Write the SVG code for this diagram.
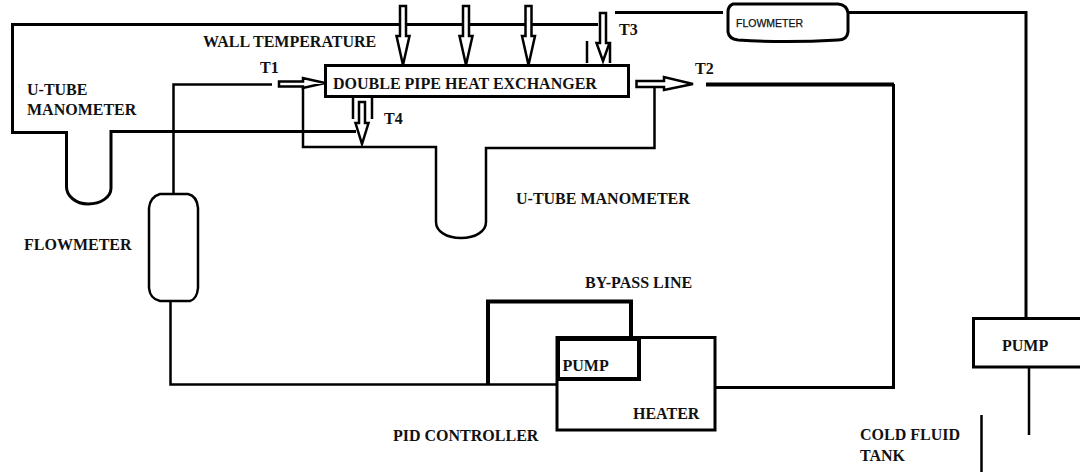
<svg xmlns="http://www.w3.org/2000/svg" width="1080" height="472" viewBox="0 0 1080 472">
<style>
text{font-family:"Liberation Serif","Times New Roman",serif;font-weight:bold;font-size:16px;fill:#111}
.sans{font-family:"Liberation Sans",Arial,sans-serif;font-size:10.5px;font-weight:normal;stroke:#111;stroke-width:.25px}
.l,.b,.a{fill:none;stroke:#000;stroke-width:2.5px}
.b{stroke-width:4px}
.m{fill:none;stroke:#000;stroke-width:3px}
.a{fill:#fff;stroke-width:2.5px}
.n{fill:#fff;stroke:#000;stroke-width:3px}
#bg{fill:#fff}
</style>
<defs>
<path id="down" class="a" d="M-3,0H3V30H6.500L0,59L-6.500,30H-3Z"/>
</defs>
<rect id="bg" width="1080" height="472"/>
<g id="connectors">
<path class="m" d="M598,24.500H12.500V132.500H66.500V186C66,196 76,204 88,204C101,204 111,197 111,188V131.500H356"/>
<path class="l" d="M173.500,194V84.500H272"/>
<path class="l" d="M303,86V147H436V222C436,231 446,238 461,238C476,238 486,231 486,222V148H654.500V86"/>
<path class="b" d="M706,84.500H894"/>
<path class="m" d="M893.500,84V387.500H716"/>
<path class="m" d="M615,12.500H723"/>
<path class="m" d="M848,12.500H1026V318"/>
<path class="l" d="M1029,367V435"/>
<path class="l" d="M981.500,415V472"/>
<path class="l" d="M170.500,301V384.500H556"/>
<path class="b" d="M488,384V301.500H631V337"/>
<path class="l" d="M587,41V63M610,42V63M353,98V119M372,98V119"/>
<path class="a" d="M279,81.500H303V78L325,83L303,88V86.500H279Z"/>
<path class="a" d="M636.500,81H664V77L693,84L664,90V87H636.500Z"/>
</g>
<g id="heat-exchanger"><rect class="n" x="325.500" y="65.500" width="303" height="31"/><text x="333" y="89">DOUBLE PIPE HEAT EXCHANGER</text></g>
<g id="wall-arrow-1"><use href="#down" x="403" y="6"/></g>
<g id="wall-arrow-2"><use href="#down" x="466" y="6"/></g>
<g id="wall-arrow-3"><use href="#down" x="528.500" y="6"/></g>
<g id="t3-probe"><path class="a" d="M600,13H606V43H609.500L603,61L596.500,43H600Z"/></g>
<g id="t4-probe"><path class="a" d="M359,102H365V123H368.500L362,144L355.500,123H359Z"/></g>
<g id="flowmeter-top"><path class="m" d="M733,4H838Q847,5 848,13V32Q847,40 838,40Q785,43 738,40Q729,39 728,32V12Q728,6 733,4Z"/><text class="sans" x="736" y="27">FLOWMETER</text></g>
<g id="flowmeter-left"><path class="l" d="M160,194H188Q197,196 198,208V288Q197,299 190,301H160Q150,299 149,288V208Q150,197 160,194Z"/></g>
<g id="heater"><rect class="m" x="557" y="337.500" width="158" height="92.500"/><text x="633" y="419">HEATER</text></g>
<g id="pump-inner"><rect class="b" x="558" y="339" width="81" height="40"/><text x="562.500" y="371">PUMP</text></g>
<g id="pump-right"><rect class="n" x="973.500" y="318.500" width="108" height="48.500"/><text x="1002" y="351">PUMP</text></g>
<g id="labels">
<text x="203" y="47">WALL TEMPERATURE</text>
<text x="260" y="73">T1</text>
<text x="619" y="35">T3</text>
<text x="695" y="74">T2</text>
<text x="384" y="124">T4</text>
<text x="27" y="95">U-TUBE</text>
<text x="27" y="115">MANOMETER</text>
<text x="516" y="204">U-TUBE MANOMETER</text>
<text x="24" y="250">FLOWMETER</text>
<text x="585" y="288">BY-PASS LINE</text>
<text x="393" y="441">PID CONTROLLER</text>
<text x="860" y="440">COLD FLUID</text>
<text x="860" y="461">TANK</text>
</g>
</svg>
